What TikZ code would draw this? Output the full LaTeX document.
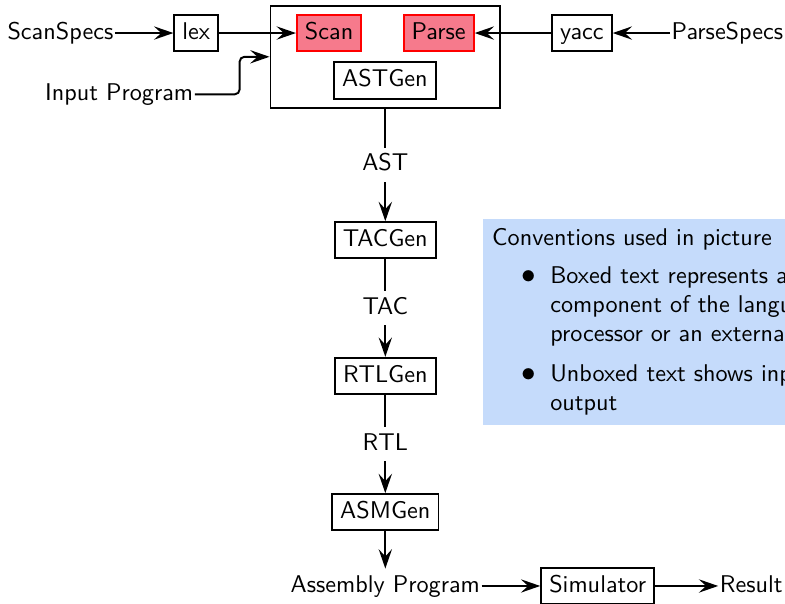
\documentclass[tikz,border=0pt]{standalone}
\usepackage{tikz}
\usetikzlibrary{positioning,fit,arrows.meta}
\definecolor{scanred}{RGB}{246,122,140}
\definecolor{convblue}{RGB}{197,219,251}

\begin{document}
\begin{tikzpicture}[
  every node/.style={font=\sffamily},
  lbl/.style={text height=7pt, text depth=2pt, inner ysep=2.5pt},
  txt/.style={lbl, inner xsep=0.5pt},
  box/.style={lbl, draw, thick, inner ysep=3pt},
  hot/.style={box, draw=red, fill=scanred},
  arr/.style={thick, -{Stealth[length=8pt, width=5.5pt, inset=3pt]}}
]
\path[use as bounding box, clip] (0,0) rectangle (11.40,8.76);

% front end
\node[txt, anchor=east] (scanspecs) at (1.67,8.28) {ScanSpecs};
\node[box] (lex) at (2.85,8.28) {lex};
\node[hot] (scan) at (4.78,8.28) {Scan};
\node[hot] (parse) at (6.37,8.28) {Parse};
\node[box] (astgen) at (5.59,7.59) {ASTGen};
\node[box] (yacc) at (8.45,8.28) {yacc};
\node[txt, anchor=west] (parsespecs) at (9.73,8.28) {ParseSpecs};
\node[txt, anchor=east] (inprog) at (2.83,7.39) {Input Program};
\node[draw, thick, fit=(scan)(parse)(astgen), inner xsep=10.5pt, inner ysep=3.3pt] (front) {};

\draw[arr] (scanspecs) -- (lex);
\draw[arr] (lex) -- (scan);
\draw[arr] (yacc) -- (parse);
\draw[arr] (parsespecs) -- (yacc);
\draw[arr, rounded corners=2pt] (inprog.east) -- ++(0.65,0) |- (front.west);

% back end
\node[box] (tacgen) at (front.south |- 0,5.27) {TACGen};
\node[box] (rtlgen) at (front.south |- 0,3.30) {RTLGen};
\node[box] (asmgen) at (front.south |- 0,1.32) {ASMGen};
\node[txt] (asmprog) at (front.south |- 0,0.25) {Assembly Program};
\node[box] (sim) at (8.68,0.25) {Simulator};
\node[txt, anchor=west] (result) at (10.43,0.25) {Result};

\draw[arr] (front) -- node[lbl, fill=white] (ast) {AST} (tacgen);
\draw[arr] (tacgen) -- node[lbl, fill=white] (tac) {TAC} (rtlgen);
\draw[arr] (rtlgen) -- node[lbl, fill=white] (rtl) {RTL} (asmgen);
\draw[arr] (asmgen) -- (asmprog);
\draw[arr] (asmprog) -- (sim);
\draw[arr] (sim) -- (result);

% legend
\node[fill=convblue, anchor=north west, text width=7cm, inner sep=4pt, align=left] (conv) at (7.00,5.59) {%
  Conventions used in picture\par\vspace{3.7pt}
  \leftskip=24pt
  \leavevmode\llap{\large$\bullet$\hspace{6pt}}Boxed text represents a\\
  component of the language\\
  processor or an external\par\vspace{4.5pt}
  \leavevmode\llap{\large$\bullet$\hspace{6pt}}Unboxed text shows input\\
  output\par};
\end{tikzpicture}
\end{document}
